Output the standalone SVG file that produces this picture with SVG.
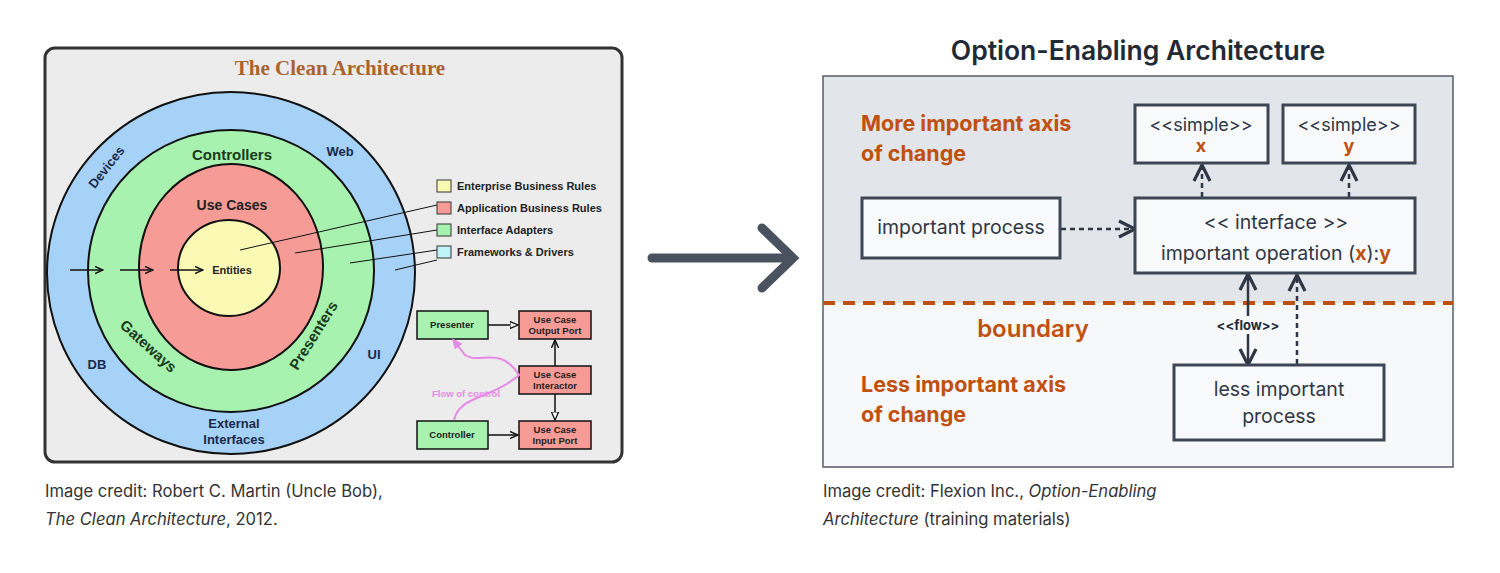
<svg xmlns="http://www.w3.org/2000/svg" width="1500" height="573" viewBox="0 0 1500 573">
<defs>
<style>
.s{font-family:"Liberation Sans",Arial,sans-serif;font-weight:bold}
.i{font-family:Inter,"Noto Sans",sans-serif}
.bx{fill:#f8f9fb;stroke:#3d4655;stroke-width:3}
.ln{stroke:#2f3744;stroke-width:2.5;fill:none}
.dl{stroke:#2f3744;stroke-width:2.5;fill:none;stroke-dasharray:5 4}
.or{fill:#c0500e;font-weight:bold}
</style>
<marker id="op" viewBox="0 0 10 10" refX="9" refY="5" markerWidth="8" markerHeight="8" orient="auto-start-reverse"><path d="M1 1L9 5L1 9" fill="none" stroke="#2f3744" stroke-width="1.6"/></marker>
<marker id="ta" viewBox="0 0 10 10" refX="9" refY="5" markerWidth="6" markerHeight="6" orient="auto"><path d="M0 1L9 5L0 9" fill="none" stroke="#111" stroke-width="1.6"/></marker>
<marker id="tr" viewBox="0 0 10 10" refX="9" refY="5" markerWidth="6" markerHeight="6" orient="auto"><path d="M0 1L9 5L0 9Z" fill="#fff" stroke="#111" stroke-width="1.4"/></marker>
<marker id="pk" viewBox="0 0 10 10" refX="5" refY="5" markerWidth="6" markerHeight="6" orient="auto"><path d="M0 1L9 5L0 9Z" fill="#e68ae6"/></marker>
</defs>
<rect width="1500" height="573" fill="#fff"/>
<g id="clean">
<rect x="45" y="48" width="577" height="414" rx="10" fill="#ececec" stroke="#333" stroke-width="3"/>
<text x="340" y="75" text-anchor="middle" font-family="Liberation Serif,serif" font-weight="bold" font-size="21" fill="#a8642c">The Clean Architecture</text>
<ellipse cx="231" cy="273" rx="184" ry="181" fill="#a6d2f7" stroke="#111" stroke-width="2"/>
<ellipse cx="231" cy="271" rx="143" ry="141" fill="#a6f2ae" stroke="#111" stroke-width="2"/>
<ellipse cx="231" cy="267" rx="92" ry="103" fill="#f79b97" stroke="#111" stroke-width="2"/>
<ellipse cx="229" cy="268" rx="51" ry="48" fill="#fafab4" stroke="#111" stroke-width="2"/>
<g class="s" fill="#222">
<text x="232" y="160" text-anchor="middle" font-size="15" fill="#1a3a1a">Controllers</text>
<text x="232" y="210" text-anchor="middle" font-size="14">Use Cases</text>
<text x="232" y="274" text-anchor="middle" font-size="11">Entities</text>
<text x="340" y="156" text-anchor="middle" font-size="13" fill="#1a2a4a">Web</text>
<text transform="translate(110,170) rotate(-52)" text-anchor="middle" font-size="13" fill="#1a2a4a">Devices</text>
<text transform="translate(145,350) rotate(42)" text-anchor="middle" font-size="15" fill="#1a3a1a">Gateways</text>
<text transform="translate(318,338) rotate(-58)" text-anchor="middle" font-size="15" fill="#1a3a1a">Presenters</text>
<text x="97" y="369" text-anchor="middle" font-size="13" fill="#1a2a4a">DB</text>
<text x="374" y="359" text-anchor="middle" font-size="13" fill="#1a2a4a">UI</text>
<text x="234" y="428" text-anchor="middle" font-size="13" fill="#1a2a4a">External</text>
<text x="234" y="444" text-anchor="middle" font-size="13" fill="#1a2a4a">Interfaces</text>
</g>
<g stroke="#111" stroke-width="1.5">
<line x1="70" y1="270" x2="103" y2="270" marker-end="url(#ta)"/>
<line x1="120" y1="270" x2="153" y2="270" marker-end="url(#ta)"/>
<line x1="170" y1="270" x2="203" y2="270" marker-end="url(#ta)"/>
<g stroke-width="1"><line x1="240" y1="250" x2="437" y2="205" /><line x1="295" y1="253" x2="437" y2="230"/><line x1="350" y1="263" x2="437" y2="250"/><line x1="395" y1="270" x2="437" y2="260"/></g>
</g>
<g stroke="#333" stroke-width="1" class="s" font-size="11" fill="#222">
<rect x="437" y="180" width="14" height="12" fill="#fafab4"/><text x="457" y="190" stroke="none">Enterprise Business Rules</text>
<rect x="437" y="202" width="14" height="12" fill="#f79b97"/><text x="457" y="212" stroke="none">Application Business Rules</text>
<rect x="437" y="224" width="14" height="12" fill="#a6f2ae"/><text x="457" y="234" stroke="none">Interface Adapters</text>
<rect x="437" y="246" width="14" height="12" fill="#bff4f7"/><text x="457" y="256" stroke="none">Frameworks &amp; Drivers</text>
</g>
<g stroke="#111" stroke-width="1.5" class="s" font-size="9.5" fill="#222" text-anchor="middle">
<rect x="417" y="311" width="71" height="28" fill="#a6f2ae"/><text x="452" y="328" stroke="none">Presenter</text>
<rect x="417" y="421" width="71" height="28" fill="#a6f2ae"/><text x="452" y="438" stroke="none">Controller</text>
<rect x="519" y="311" width="72" height="28" fill="#f79b97"/><text x="555" y="323" stroke="none">Use Case</text><text x="555" y="334" stroke="none">Output Port</text>
<rect x="519" y="366" width="72" height="28" fill="#f79b97"/><text x="555" y="378" stroke="none">Use Case</text><text x="555" y="389" stroke="none">Interactor</text>
<rect x="519" y="421" width="72" height="28" fill="#f79b97"/><text x="555" y="433" stroke="none">Use Case</text><text x="555" y="444" stroke="none">Input Port</text>
<line x1="488" y1="325" x2="518" y2="325" marker-end="url(#tr)"/>
<line x1="488" y1="435" x2="518" y2="435" marker-end="url(#ta)"/>
<line x1="555" y1="366" x2="555" y2="340" marker-end="url(#ta)"/>
<line x1="555" y1="394" x2="555" y2="420" marker-end="url(#tr)"/>
<path d="M454 420C460 395 490 400 519 375C500 345 480 365 465 355L455 342" stroke="#e68ae6" stroke-width="2" fill="none" marker-end="url(#pk)"/>
<text x="466" y="397" stroke="none" fill="#e68ae6" font-size="9.5">Flow of control</text>
</g>
</g>
<text class="i" x="45" y="497" font-size="16.6" fill="#333">Image credit: Robert C. Martin (Uncle Bob),</text>
<text class="i" x="45" y="525" font-size="16.6" fill="#333"><tspan font-style="italic">The Clean Architecture</tspan>, 2012.</text>
<g id="bigarrow" stroke="#4a5260" stroke-width="9" fill="none" stroke-linecap="round">
<line x1="652" y1="258" x2="790" y2="258"/><path d="M762 228L793 258L762 288"/>
</g>
<g id="oea" class="i">
<text x="1138" y="60" text-anchor="middle" font-size="26.5" font-weight="600" fill="#222a36">Option-Enabling Architecture</text>
<rect x="823" y="76" width="630" height="227" fill="#e2e5e9"/>
<rect x="823" y="303" width="630" height="164" fill="#f6f8fa"/>
<rect x="823" y="76" width="630" height="391" fill="none" stroke="#555d68" stroke-width="1.5"/>
<line x1="823" y1="303" x2="1453" y2="303" stroke="#c0500e" stroke-width="4" stroke-dasharray="12 8"/>
<text x="861" y="131" font-size="21.5" class="or">More important axis</text>
<text x="861" y="161" font-size="21.5" class="or">of change</text>
<text x="1033" y="337" text-anchor="middle" font-size="24" fill="#c0500e" font-weight="600">boundary</text>
<text x="861" y="392" font-size="21.5" class="or">Less important axis</text>
<text x="861" y="422" font-size="21.5" class="or">of change</text>
</g>
<g id="connectors">
<line class="dl" x1="1061" y1="229" x2="1135" y2="229" marker-end="url(#op)"/>
<line class="dl" x1="1202" y1="197" x2="1202" y2="165" marker-end="url(#op)"/>
<line class="dl" x1="1349" y1="197" x2="1349" y2="165" marker-end="url(#op)"/>
<line class="ln" x1="1248" y1="274" x2="1248" y2="365" marker-start="url(#op)" marker-end="url(#op)"/>
<line class="dl" x1="1297" y1="364" x2="1297" y2="275" marker-end="url(#op)"/>
<rect x="1208" y="316" width="80" height="18" fill="#f6f8fa"/>
<text x="1248" y="330" text-anchor="middle" font-family="Inter,sans-serif" font-weight="bold" font-size="13" fill="#222a36">&lt;&lt;flow&gt;&gt;</text>
</g>
<g id="n-important" class="i"><rect class="bx" x="862" y="198" width="198" height="60"/><text x="961" y="234" text-anchor="middle" font-size="19.5" fill="#2f3744">important process</text></g>
<g id="n-x" class="i"><rect class="bx" x="1135" y="105" width="133" height="58"/><text x="1201" y="131" text-anchor="middle" font-size="18" fill="#2f3744">&lt;&lt;simple&gt;&gt;</text><text x="1201" y="152" text-anchor="middle" font-size="18" class="or">x</text></g>
<g id="n-y" class="i"><rect class="bx" x="1283" y="105" width="132" height="58"/><text x="1349" y="131" text-anchor="middle" font-size="18" fill="#2f3744">&lt;&lt;simple&gt;&gt;</text><text x="1349" y="152" text-anchor="middle" font-size="18" class="or">y</text></g>
<g id="n-iface" class="i"><rect class="bx" x="1135" y="198" width="280" height="75"/><text x="1276" y="229" text-anchor="middle" font-size="19.5" fill="#2f3744">&lt;&lt; interface &gt;&gt;</text><text x="1276" y="260" text-anchor="middle" font-size="19.5" fill="#2f3744">important operation (<tspan class="or">x</tspan>):<tspan class="or">y</tspan></text></g>
<g id="n-less" class="i"><rect class="bx" x="1174" y="365" width="210" height="75"/><text x="1279" y="396" text-anchor="middle" font-size="19.5" fill="#2f3744">less important</text><text x="1279" y="423" text-anchor="middle" font-size="19.5" fill="#2f3744">process</text></g>
<text class="i" x="823" y="497" font-size="16.6" fill="#333">Image credit: Flexion Inc., <tspan font-style="italic">Option-Enabling</tspan></text>
<text class="i" x="823" y="525" font-size="16.6" fill="#333"><tspan font-style="italic">Architecture</tspan> (training materials)</text>
</svg>
